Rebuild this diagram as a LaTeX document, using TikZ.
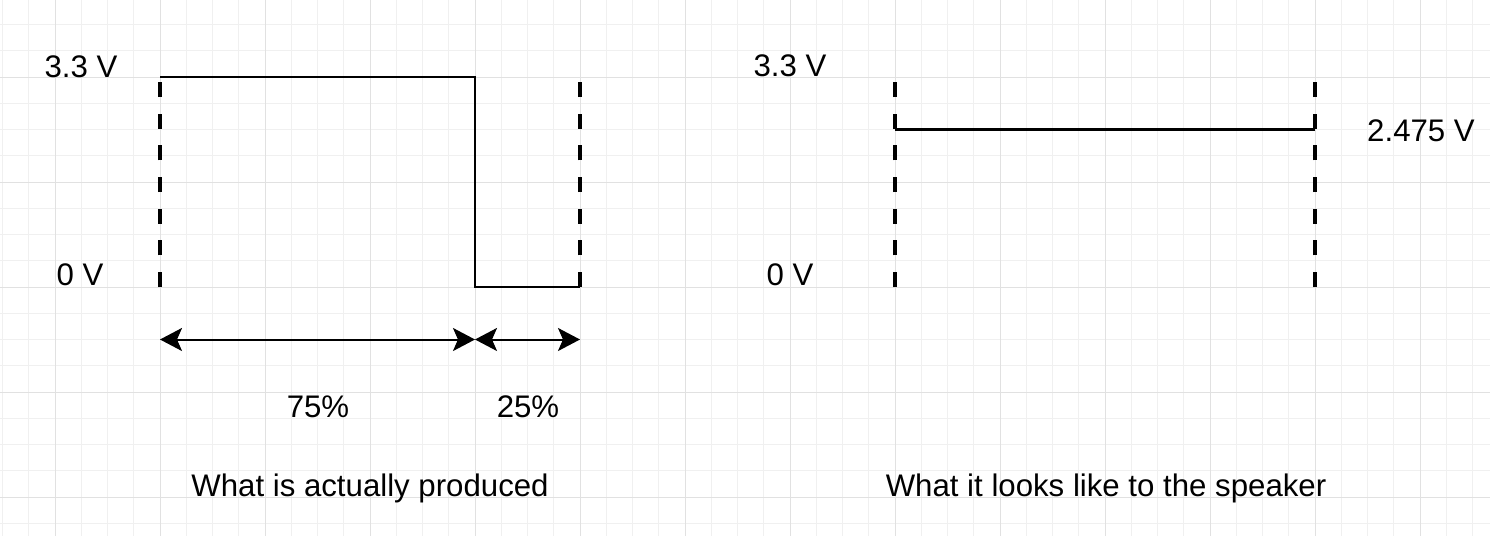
\documentclass[tikz,border=0pt]{standalone}
\usepackage{fontspec}
\setmainfont{Liberation Sans}
\usepackage{tikz}
\usetikzlibrary{arrows.meta,positioning}
\definecolor{mygridminor}{RGB}{240,240,240}
\definecolor{mygridmajor}{RGB}{225,225,225}

\begin{document}
\begin{tikzpicture}[
  x=0.5pt, y=-0.5pt,
  every node/.style={font=\fontsize{15.6}{18}\selectfont, inner sep=0pt},
  mylabel/.style={anchor=base},
  mysignal/.style={line width=1.2pt, line join=miter},
  mymarker/.style={line width=2pt, dash pattern=on 7.5pt off 8.33pt},
  myspan/.style={line width=1pt, {Stealth[length=11pt, width=11.5pt, inset=2.5pt]}-{Stealth[length=11pt, width=11.5pt, inset=2.5pt]}},
  mygrid/.style={line width=0.5pt, draw=#1}
]
\useasboundingbox (0,0) rectangle (1490,536);

\foreach \k in {-6,...,50}
  \draw[mygrid=mygridminor] ({160+\k*26.25},0) -- ({160+\k*26.25},536);
\foreach \k in {-2,...,17}
  \draw[mygrid=mygridminor] (0,{77+\k*26.25}) -- (1490,{77+\k*26.25});
\foreach \k in {-4,0,...,48}
  \draw[mygrid=mygridmajor] ({160+\k*26.25},0) -- ({160+\k*26.25},536);
\foreach \k in {0,4,...,16}
  \draw[mygrid=mygridmajor] (0,{77+\k*26.25}) -- (1490,{77+\k*26.25});

\coordinate (sigstart) at (160,77);
\coordinate (sigfall) at (475,77);
\coordinate (siglow) at (475,287);
\coordinate (sigend) at (580,287);

\coordinate (markAtop) at (160,82);
\coordinate (markAbot) at (160,287);
\coordinate (markBtop) at (580,82);
\coordinate (markBbot) at (580,287);
\coordinate (markCtop) at (895,82);
\coordinate (markCbot) at (895,287);
\coordinate (markDtop) at (1315,82);
\coordinate (markDbot) at (1315,287);

\coordinate (avgstart) at (895,129.5);
\coordinate (avgend) at (1315,129.5);

\coordinate (spanA) at (160,339.5);
\coordinate (spanB) at (475,339.5);
\coordinate (spanC) at (580,339.5);

\draw[mymarker] (markAbot) -- (markAtop);
\draw[mymarker] (markBbot) -- (markBtop);
\draw[mymarker] (markCbot) -- (markCtop);
\draw[mymarker] (markDbot) -- (markDtop);

\draw[mysignal] (sigstart) -- (sigfall) -- (siglow) -- (sigend);
\draw[mysignal] (avgstart) -- (avgend);

\draw[myspan] (spanA) -- (spanB);
\draw[myspan] (spanB) -- (spanC);

\node[mylabel] (lefthigh) at (81,77) {3.3 V};
\node[mylabel] (leftlow) at (80,285) {0 V};
\node[mylabel] (righthigh) at (790,76) {3.3 V};
\node[mylabel] (rightlow) at (790,285) {0 V};
\node[mylabel] (rightavg) at (1421,141.5) {2.475 V};
\node[mylabel] (dutyhigh) at (318,417) {75\%};
\node[mylabel] (dutylow) at (528,417) {25\%};
\node[mylabel] (leftcaption) at (370,496) {What is actually produced};
\node[mylabel] (rightcaption) at (1106,496) {What it looks like to the speaker};
\end{tikzpicture}
\end{document}
